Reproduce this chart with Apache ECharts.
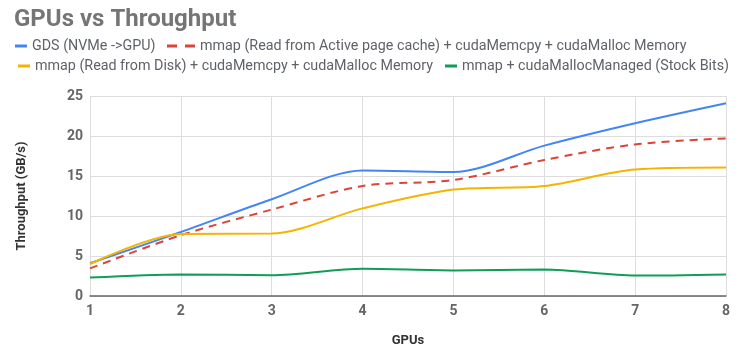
<!DOCTYPE html>
<html><head><meta charset="utf-8">
<script src="https://cdn.jsdelivr.net/npm/echarts@6/dist/echarts.min.js"></script>
<style>html,body{margin:0;padding:0;background:#fff}#c{width:750px;height:358px}</style>
</head><body><div id="c"></div>
<script>
const categories = ['1','2','3','4','5','6','7','8'];
const seriesNames = [
  'GDS (NVMe ->GPU)',
  'mmap (Read from Active page cache) + cudaMemcpy + cudaMalloc Memory',
  'mmap (Read from Disk) + cudaMemcpy + cudaMalloc Memory',
  'mmap + cudaMallocManaged (Stock Bits)'
];
const gds = [4.1, 8.0, 12.1, 15.7, 15.5, 18.8, 21.6, 24.1];
const mmapCache = [3.45, 7.6, 10.8, 13.75, 14.5, 17.0, 18.95, 19.7];
const mmapDisk = [4.0, 7.75, 7.8, 10.95, 13.3, 13.75, 15.8, 16.05];
const mmapManaged = [2.3, 2.7, 2.6, 3.4, 3.2, 3.3, 2.55, 2.7];
const yTicks = [0, 5, 10, 15, 20, 25];
const colors = ['#4285f4', '#db4437', '#f4b400', '#0f9d58'];

const chart = echarts.init(document.getElementById('c'));
const legendText = {fontFamily: 'Roboto', fontSize: 14.3, color: '#5f6368'};
function mkLegend(i, left, top) {
  return {data: [seriesNames[i]], left: left, top: top, itemWidth: i === 1 ? 28 : 12, itemHeight: 3,
    itemGap: 6, textStyle: legendText, padding: 0,
    icon: i === 1 ? 'path://M0,0h10v3H0z M18,0h10v3H18z' : 'rect'};
}
chart.setOption({
  animation: false,
  title: {text: 'GPUs vs Throughput', left: 9, top: 3,
    textStyle: {fontFamily: 'Roboto', fontWeight: 'bold', fontSize: 24, color: '#757575'}},
  legend: [mkLegend(0, 15, 39), mkLegend(1, 167, 39), mkLegend(2, 18, 59), mkLegend(3, 445, 59)],
  grid: {left: 90, right: 24, top: 96, bottom: 62},
  xAxis: {type: 'category', data: categories, boundaryGap: false,
    name: 'GPUs', nameLocation: 'middle', nameGap: 38,
    nameTextStyle: {fontFamily: 'Roboto', fontWeight: 'bold', fontSize: 13, color: '#333'},
    axisLine: {lineStyle: {color: '#666', width: 1.5}}, axisTick: {show: false},
    axisLabel: {fontFamily: 'Roboto', fontWeight: 'bold', fontSize: 14, color: '#666', margin: 8},
    splitLine: {show: true, lineStyle: {color: '#ddd'}}},
  yAxis: {type: 'value', min: 0, max: 25, interval: 5,
    name: 'Throughput (GB/s)', nameLocation: 'middle', nameGap: 62,
    nameTextStyle: {fontFamily: 'Roboto', fontWeight: 'bold', fontSize: 13, color: '#333'},
    axisLine: {show: false}, axisTick: {show: false},
    axisLabel: {fontFamily: 'Roboto', fontWeight: 'bold', fontSize: 14, color: '#666', margin: 7,
      formatter: v => yTicks.includes(v) ? String(v) : ''},
    splitLine: {lineStyle: {color: '#ddd'}}},
  series: [
    {name: seriesNames[0], type: 'line', data: gds, smooth: 0.3, symbol: 'none', color: colors[0], lineStyle: {width: 2}},
    {name: seriesNames[1], type: 'line', data: mmapCache, smooth: 0.3, symbol: 'none', color: colors[1], lineStyle: {width: 2, type: [8, 6]}},
    {name: seriesNames[2], type: 'line', data: mmapDisk, smooth: 0.3, symbol: 'none', color: colors[2], lineStyle: {width: 2}},
    {name: seriesNames[3], type: 'line', data: mmapManaged, smooth: 0.3, symbol: 'none', color: colors[3], lineStyle: {width: 2}}
  ]
});
</script></body></html>
